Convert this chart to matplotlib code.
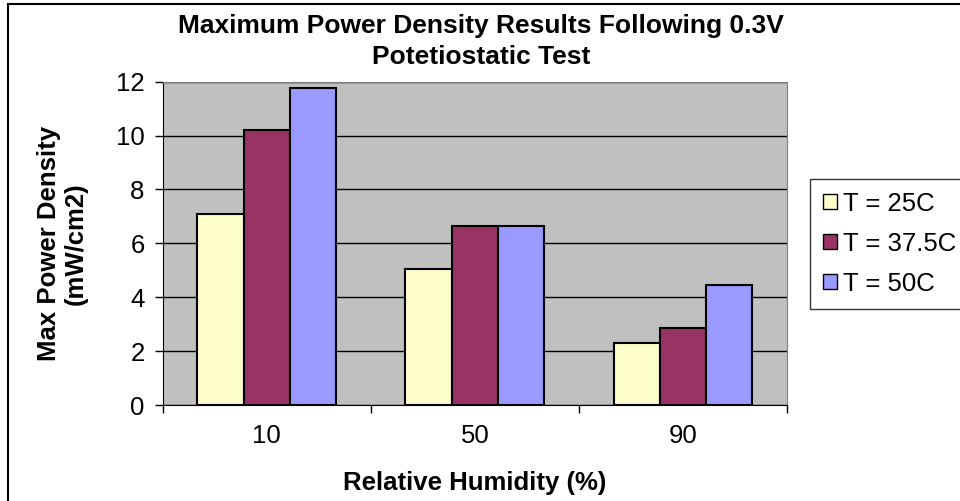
import numpy as np
import matplotlib.pyplot as plt
from matplotlib.patches import Rectangle

plt.rcParams['font.family'] = ['Liberation Sans', 'DejaVu Sans']

# Power density data (mW/cm2) at each relative humidity
humidity = ['10', '50', '90']
series_names = ['T = 25C', 'T = 37.5C', 'T = 50C']
t25 = [7.1, 5.05, 2.3]
t375 = [10.2, 6.65, 2.87]
t50 = [11.78, 6.64, 4.44]
colors = ['#FFFFCC', '#993366', '#9999FF']

fs = 18.5

fig = plt.figure(figsize=(9.6, 5.01), dpi=100)
ax = fig.add_axes([0.1695, 0.1916, 0.6503, 0.6453])
ax.set_facecolor('#C0C0C0')

x = np.arange(len(humidity))
width = 1 / 4.5
for i, (vals, name) in enumerate(zip([t25, t375, t50], series_names)):
    ax.bar(x + (i - 1) * width, vals, width, color=colors[i], edgecolor='black',
           linewidth=1.5, label=name, zorder=3)

ax.set_xlim(-0.5, 2.5)
ax.set_ylim(0, 12)
ax.set_yticks(range(0, 13, 2))
ax.yaxis.grid(True, color='black', linewidth=1, zorder=1)
ax.set_axisbelow(True)

ax.set_xticks(x)
ax.set_xticklabels(humidity, fontsize=fs)
ax.tick_params(axis='x', which='major', length=0, pad=14)
ax.set_xticks([-0.5, 0.5, 1.5, 2.5], minor=True)
ax.tick_params(axis='x', which='minor', length=6, width=1, direction='out')
ax.tick_params(axis='y', labelsize=fs, length=6, width=1, direction='out', pad=7)

for side in ['top', 'right']:
    ax.spines[side].set_color('#808080')
for side in ['left', 'bottom']:
    ax.spines[side].set_color('black')

ax.set_xlabel('Relative Humidity (%)', fontsize=fs, fontweight='bold', labelpad=16)
ax.set_ylabel('Max Power Density\n(mW/cm2)', fontsize=fs, fontweight='bold',
              labelpad=20, linespacing=1.15)
fig.text(0.501, 0.917, 'Maximum Power Density Results Following 0.3V\nPotetiostatic Test',
         ha='center', va='center', fontsize=19, fontweight='bold', linespacing=1.35)

leg = fig.legend(loc='upper left', bbox_to_anchor=(810 / 960, 1 - 179 / 501),
                 fontsize=fs, frameon=True, fancybox=False, edgecolor='black',
                 handlelength=0.55, handleheight=0.55, handletextpad=0.25,
                 labelspacing=0.62, borderpad=0.5, borderaxespad=0)
leg.get_frame().set_linewidth(1)
for h in leg.legend_handles:
    h.set_linewidth(1)

# outer chart border
fig.add_artist(Rectangle((8 / 960, -0.01), 1.0, 1 - 4 / 501 + 0.01,
                         transform=fig.transFigure, fill=False,
                         edgecolor='black', linewidth=1.5))

fig.savefig('out.png', dpi=100)
